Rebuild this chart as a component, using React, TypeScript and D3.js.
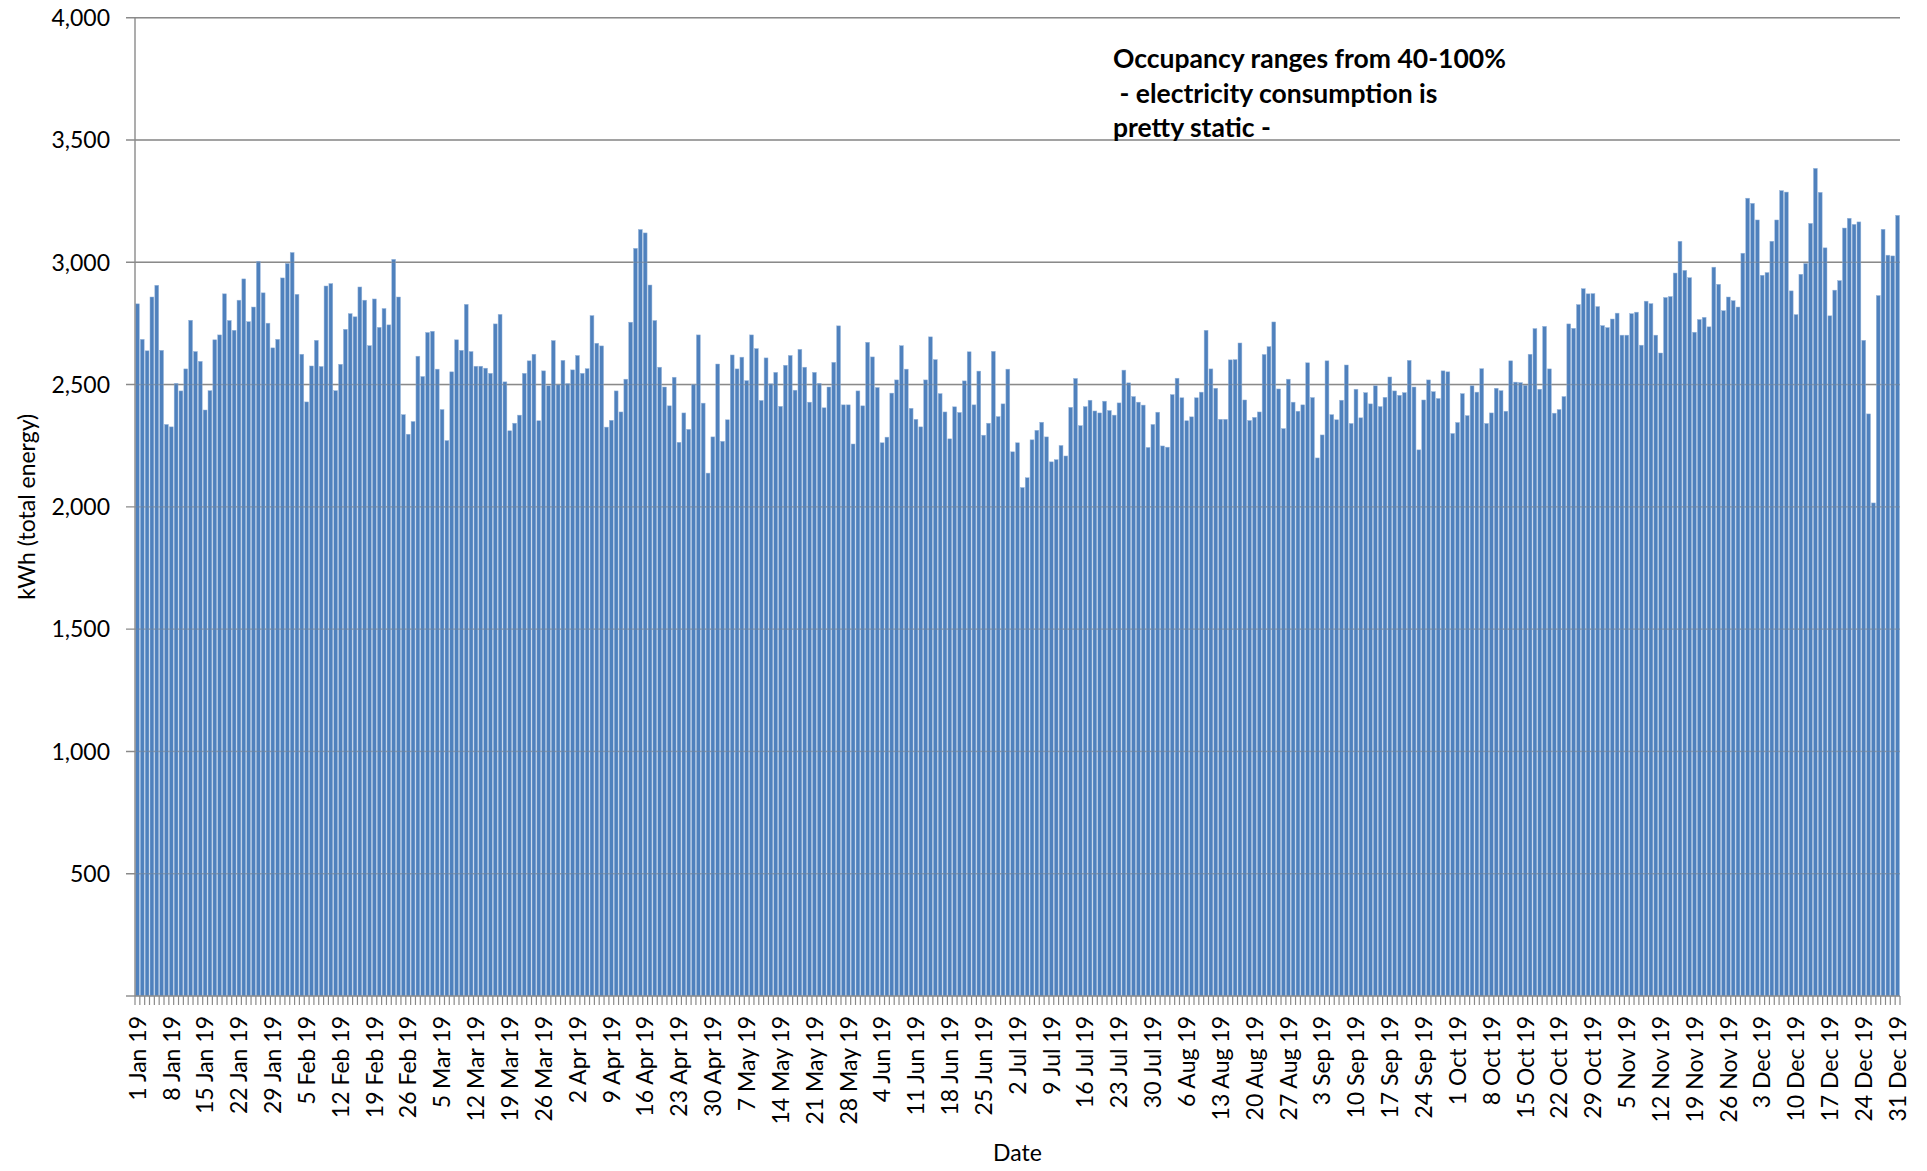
import React from "react";
import * as d3 from "d3";

// Daily electricity consumption (kWh, total energy), 2019
const jan = [2830, 2685, 2638, 2858, 2906, 2640, 2337, 2327, 2505, 2474, 2564, 2763, 2635, 2595, 2396, 2475, 2683, 2703, 2871, 2762, 2722, 2845, 2932, 2757, 2817, 3004, 2875, 2751, 2650, 2685, 2936];
const feb = [2995, 3040, 2869, 2624, 2429, 2576, 2681, 2574, 2903, 2913, 2475, 2583, 2726, 2790, 2777, 2899, 2845, 2659, 2850, 2734, 2811, 2744, 3012, 2858, 2377, 2297, 2349, 2616];
const mar = [2533, 2713, 2718, 2563, 2398, 2271, 2552, 2683, 2640, 2828, 2635, 2575, 2575, 2567, 2546, 2748, 2787, 2511, 2311, 2342, 2375, 2546, 2597, 2624, 2352, 2556, 2495, 2680, 2499, 2599, 2504];
const apr = [2560, 2619, 2546, 2565, 2782, 2669, 2658, 2326, 2354, 2474, 2388, 2522, 2755, 3057, 3134, 3120, 2907, 2762, 2571, 2490, 2413, 2530, 2264, 2384, 2317, 2501, 2703, 2424, 2138, 2286];
const may = [2584, 2268, 2356, 2621, 2564, 2612, 2516, 2703, 2647, 2435, 2609, 2503, 2550, 2411, 2579, 2619, 2477, 2644, 2571, 2428, 2550, 2505, 2405, 2490, 2591, 2740, 2417, 2417, 2257, 2474, 2413];
const jun = [2673, 2613, 2488, 2262, 2285, 2465, 2519, 2659, 2563, 2403, 2358, 2327, 2519, 2695, 2602, 2463, 2388, 2278, 2409, 2386, 2515, 2634, 2417, 2555, 2293, 2342, 2636, 2369, 2421, 2563];
const jul = [2225, 2262, 2079, 2119, 2274, 2313, 2346, 2286, 2184, 2193, 2251, 2208, 2407, 2525, 2332, 2410, 2436, 2392, 2384, 2432, 2394, 2375, 2425, 2559, 2507, 2451, 2428, 2416, 2243, 2337, 2387];
const aug = [2249, 2244, 2459, 2526, 2446, 2352, 2368, 2446, 2469, 2722, 2564, 2485, 2358, 2358, 2601, 2602, 2670, 2437, 2353, 2366, 2388, 2623, 2655, 2756, 2482, 2320, 2522, 2428, 2391, 2417, 2589];
const sep = [2447, 2200, 2294, 2597, 2377, 2356, 2436, 2580, 2341, 2481, 2364, 2467, 2421, 2495, 2410, 2448, 2531, 2474, 2456, 2467, 2599, 2490, 2233, 2437, 2519, 2471, 2443, 2556, 2552, 2300];
const oct = [2345, 2463, 2373, 2495, 2469, 2565, 2341, 2384, 2485, 2475, 2391, 2597, 2510, 2508, 2497, 2624, 2729, 2481, 2738, 2564, 2383, 2398, 2451, 2748, 2730, 2827, 2892, 2871, 2872, 2819, 2741];
const nov = [2733, 2768, 2792, 2702, 2702, 2790, 2796, 2661, 2841, 2831, 2702, 2629, 2856, 2860, 2956, 3086, 2967, 2937, 2714, 2766, 2775, 2736, 2980, 2910, 2802, 2858, 2843, 2817, 3037, 3262];
const dec = [3241, 3173, 2947, 2958, 3086, 3173, 3293, 3287, 2883, 2786, 2951, 2995, 3159, 3384, 3286, 3059, 2781, 2886, 2925, 3140, 3180, 3155, 3165, 2681, 2380, 2016, 2864, 3135, 3029, 3026, 3192];

const yTicks = [0, 500, 1000, 1500, 2000, 2500, 3000, 3500, 4000];
const labelEvery = 7;
const yTitle = "kWh (total energy)";
const xTitle = "Date";
const noteLines = ["Occupancy ranges from 40-100%", " - electricity consumption is", "pretty static -"];

const values = [...jan, ...feb, ...mar, ...apr, ...may, ...jun, ...jul, ...aug, ...sep, ...oct, ...nov, ...dec];
const dates = d3.timeDay.range(new Date(2019, 0, 1), new Date(2020, 0, 1));
const fmtDate = d3.timeFormat("%-d %b %y");
const fmtNum = d3.format(",");

const W = 1927;
const H = 1171;
const X0 = 135;
const X1 = 1900;
const Y0 = 996;
const Y1 = 17.7;
const FONT = "Lato, 'Open Sans', sans-serif";
const GRID = "#8a8a8a";

export default function App() {
  const x = d3.scaleBand<number>().domain(d3.range(values.length)).range([X0, X1]).paddingInner(0.2).paddingOuter(0.1);
  const step = x.step();
  const y = d3.scaleLinear().domain([0, 4000]).range([Y0, Y1]);

  return (
    <svg width={W} height={H} style={{ position: "absolute", left: 0, top: 0, background: "#fff" }} fontFamily={FONT}>
      {yTicks.filter((t) => t > 0).map((t) => (
        <line key={"g" + t} x1={X0 - 9} x2={X1} y1={y(t)} y2={y(t)} stroke={GRID} strokeWidth={1.4} />
      ))}
      {values.map((v, i) => (
        <rect
          key={i}
          x={x(i)}
          y={y(v)}
          width={x.bandwidth()}
          height={Y0 - y(v)}
          fill="#4F81BD"
          stroke="#9ab7dc"
          strokeWidth={0.5}
        />
      ))}
      {yTicks.filter((t) => t > 0).map((t) => (
        <line key={"gf" + t} x1={X0} x2={X1} y1={y(t)} y2={y(t)} stroke={GRID} strokeWidth={1.2} strokeOpacity={0.35} />
      ))}
      <line x1={X0} x2={X0} y1={Y1} y2={Y0} stroke={GRID} strokeWidth={1.4} />
      <line x1={X0 - 9} x2={X0} y1={Y0} y2={Y0} stroke={GRID} strokeWidth={1.4} />
      {yTicks.filter((t) => t > 0).map((t) => (
        <text key={"yl" + t} x={110} y={y(t)} dy="0.36em" textAnchor="end" fontSize={23} fill="#000">
          {fmtNum(t)}
        </text>
      ))}
      <line x1={X0} x2={X1} y1={Y0} y2={Y0} stroke={GRID} strokeWidth={1.4} />
      {d3.range(values.length + 1).map((i) => {
        const xx = X0 + i * step;
        return <line key={"xt" + i} x1={xx} x2={xx} y1={Y0} y2={Y0 + 9} stroke={GRID} strokeWidth={1.2} />;
      })}
      {dates.map((d, i) =>
        i % labelEvery === 0 ? (
          <text
            key={"xl" + i}
            transform={`translate(${(x(i) as number) + x.bandwidth() / 2},1016) rotate(-90)`}
            dy="0.36em"
            textAnchor="end"
            fontSize={23}
            fill="#000"
          >
            {fmtDate(d)}
          </text>
        ) : null
      )}
      <text transform={`translate(27,${(Y0 + Y1) / 2}) rotate(-90)`} dy="0.36em" textAnchor="middle" fontSize={23} fill="#000">
        {yTitle}
      </text>
      <text x={(X0 + X1) / 2} y={1161} textAnchor="middle" fontSize={23} fill="#000">
        {xTitle}
      </text>
      {noteLines.map((s, i) => (
        <text key={"n" + i} x={1113} y={68 + i * 34.5} fontSize={26.5} fontWeight="bold" fill="#000" style={{ whiteSpace: "pre" }}>
          {s}
        </text>
      ))}
    </svg>
  );
}
